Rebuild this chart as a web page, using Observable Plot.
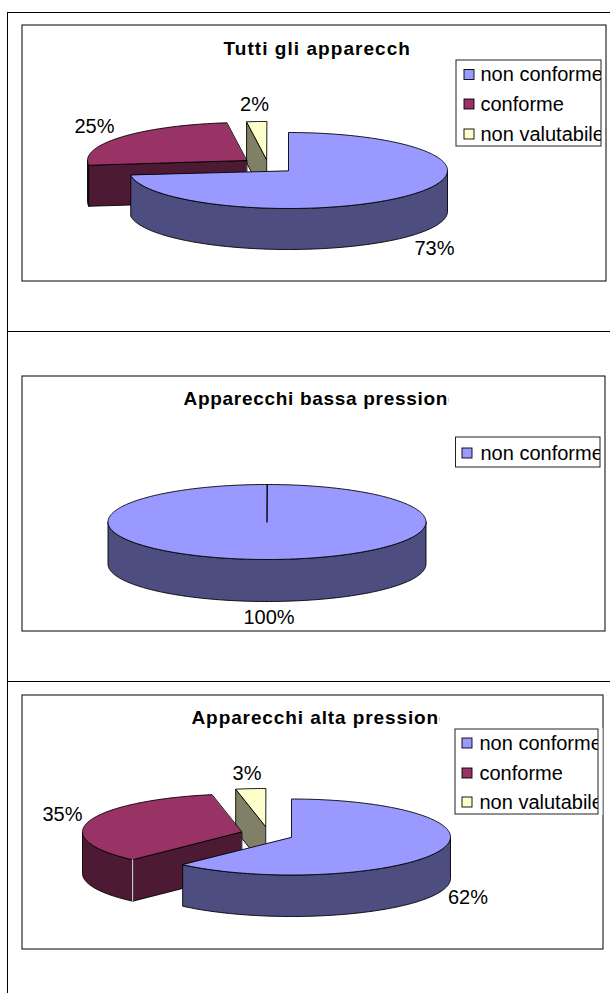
<!DOCTYPE html>
<html>
<head>
<meta charset="utf-8">
<title>Apparecchi a pressione</title>
<script src="https://cdn.jsdelivr.net/npm/d3@7"></script>
<script src="https://cdn.jsdelivr.net/npm/@observablehq/plot@0.6"></script>
<style>
  html, body { margin: 0; padding: 0; background: #fff; }
  svg { display: block; }
</style>
</head>
<body>
<div id="chart"></div>
<script>
// Values of the three pies, in percent, one series per chart.
const categories = ["non conforme", "conforme", "non valutabile"];
const tuttiValues = [73, 25, 2];
const bassaValues = [100];
const altaValues = [62, 35, 3];
const titles = ["Tutti gli apparecch", "Apparecchi bassa pressione", "Apparecchi alta pressione"];

// Colours of each category: top face and shaded side.
const topColors = ["#9999ff", "#993366", "#ffffcc"];
const sideColors = ["#4d4d80", "#4d1a33", "#808066"];

// Page layout of each chart: frame, pie ellipse, exploded apexes, legend, label anchors.
const panels = [
  {
    values: tuttiValues, frame: [22, 25, 606, 281],
    titleX: 223, titleY: 48.5, titleCut: null, titleSpacing: 1.05,
    rx: 159, ry: 38, depth: 41,
    apex: [[288, 170], [246, 160], [266, 159]],
    labels: [[434, 248], [94, 126], [254, 104]],
    legend: [456, 60, 601, 146], legendX: 480, swatchX: 464, legendY: [74.5, 104, 134], maskRight: 605, seam: false
  },
  {
    values: bassaValues, frame: [22, 376, 605, 631],
    titleX: 183, titleY: 398, titleCut: 449, titleSpacing: 0.7,
    rx: 159, ry: 37.5, depth: 42,
    apex: [[266.5, 521.5]],
    labels: [[268.5, 617]],
    legend: [455.5, 437, 600, 467], legendX: 480, swatchX: 462, legendY: [453], maskRight: 604, seam: false
  },
  {
    values: altaValues, frame: [22, 695, 603, 949],
    titleX: 191, titleY: 717, titleCut: 440, titleSpacing: 0.9,
    rx: 159, ry: 38, depth: 41.5,
    apex: [[291, 836.5], [241, 831.5], [265, 826]],
    labels: [[467.5, 897], [62, 814], [246.5, 773]],
    legend: [455, 729, 598, 814], legendX: 479, swatchX: 462, legendY: [743, 773, 802], maskRight: 602.5, seam: true
  }
];

// Point on a pie's rim: angle in degrees, clockwise from twelve o'clock.
const rim = (p, c, deg, drop = 0) => ({
  x: c[0] + p.rx * Math.sin(deg * Math.PI / 180),
  y: c[1] - p.ry * Math.cos(deg * Math.PI / 180) + drop
});
const arc = (a, b) => d3.range(a, b, 1).concat([b]);

const faces = [];
const seams = [];
const pushFace = (name, key, pts) => pts.forEach(pt => faces.push({...pt, face: name, key}));

panels.forEach((p, pi) => {
  // Angular extent of every slice, from the cumulative percentages.
  const ends = d3.cumsum(p.values);
  const slices = p.values.map((v, i) => ({i, a: (ends[i] - v) * 3.6, b: ends[i] * 3.6}));
  // Back slices first so the nearer ones cover them.
  slices.slice().reverse().forEach(({i, a, b}) => {
    const c = p.apex[i];
    const id = `${pi}-${i}`;
    const cat = categories[i];
    // Outer wall: only the part of the rim that faces the viewer.
    const w0 = Math.max(a, 90), w1 = Math.min(b, 270);
    if (w1 > w0) {
      const top = arc(w0, w1).map(d => rim(p, c, d));
      const bottom = arc(w0, w1).reverse().map(d => rim(p, c, d, p.depth));
      pushFace(`${id}-wall`, `${cat} lato`, [...top, ...bottom]);
    }
    // Cut face along a slice edge, when it turns towards the viewer.
    const cut = deg => {
      const e = rim(p, c, deg);
      return [{x: c[0], y: c[1]}, e, {x: e.x, y: e.y + p.depth}, {x: c[0], y: c[1] + p.depth}];
    };
    if (p.values[i] < 100) {
      if (a % 360 > 180) pushFace(`${id}-cutA`, `${cat} lato`, cut(a));
      if (b % 360 > 0 && b % 360 < 180) pushFace(`${id}-cutB`, `${cat} lato`, cut(b));
    }
    if (p.seam && a > 90 && a < 270 && i > 0) {
      const e = rim(p, c, a);
      seams.push({x: e.x, y: e.y, id}, {x: e.x, y: e.y + p.depth, id});
    }
    // Top face; the apex-to-rim edges also give the full pie its radius line.
    pushFace(`${id}-top`, cat, [{x: c[0], y: c[1]}, ...arc(a, b).map(d => rim(p, c, d))]);
  });
});

const frames = panels.map(p => p.frame);
const legendBoxes = panels.map(p => p.legend);
const legendRows = panels.flatMap(p => p.values.map((v, i) => ({
  cat: categories[i], x: p.legendX, sx: p.swatchX, y: p.legendY[i]
})));
const pctLabels = panels.flatMap(p => p.values.map((v, i) => ({
  text: `${v}%`, x: p.labels[i][0], y: p.labels[i][1]
})));
const titleRows = panels.map((p, i) => ({text: titles[i], x: p.titleX, y: p.titleY, spacing: p.titleSpacing}));
// Titles and legend entries are cut off where their boxes end.
const titleMasks = panels.filter(p => p.titleCut).map(p => ({x1: p.titleCut, x2: p.titleCut + 30, y1: p.titleY - 13, y2: p.titleY + 13}));
const legendMasks = panels.map(p => ({x1: p.legend[2], x2: p.maskRight, y1: p.legend[1] - 1, y2: p.legend[3] + 1}));

const colorDomain = categories.concat(categories.map(c => `${c} lato`));
const colorRange = topColors.concat(sideColors);

const box = (rows, options) => Plot.rect(rows, {
  x1: d => d[0], y1: d => d[1], x2: d => d[2], y2: d => d[3], ...options
});

const chart = Plot.plot({
  width: 610,
  height: 993,
  margin: 0,
  x: {domain: [0, 610], range: [0, 610], axis: null},
  y: {domain: [0, 993], range: [0, 993], axis: null},
  color: {type: "ordinal", domain: colorDomain, range: colorRange},
  style: {fontFamily: "'Liberation Sans', Arial, sans-serif", background: "#fff", color: "#000"},
  marks: [
    // Page rules around and between the charts.
    Plot.ruleX([7], {y1: 12, y2: 993, stroke: "#000"}),
    Plot.ruleY([12, 331, 681], {x1: 7, x2: 610, stroke: "#000"}),
    box(frames, {fill: "#fff", stroke: "#000"}),

    // Pie faces, in painter's order.
    Plot.line(faces, {
      x: "x", y: "y", z: "face", fill: "key",
      stroke: "#000", strokeWidth: 0.9, curve: "linear-closed"
    }),
    Plot.line(seams, {x: "x", y: "y", z: "id", stroke: "#e4e4e4", strokeWidth: 1}),

    Plot.text(pctLabels, {
      x: "x", y: "y", text: "text", fontSize: 20, fill: "#000",
      textAnchor: "middle", lineAnchor: "middle"
    }),

    Plot.text(titleRows, {
      x: "x", y: "y", text: "text", fontSize: 19, fontWeight: "bold", fill: "#000",
      textAnchor: "start", lineAnchor: "middle"
    }),
    Plot.rect(titleMasks, {x1: "x1", x2: "x2", y1: "y1", y2: "y2", fill: "#fff"}),

    // Legends.
    Plot.text(legendRows, {
      x: "x", y: "y", text: "cat", fontSize: 20, fill: "#000",
      textAnchor: "start", lineAnchor: "middle"
    }),
    Plot.rect(legendMasks, {x1: "x1", x2: "x2", y1: "y1", y2: "y2", fill: "#fff"}),
    box(legendBoxes, {fill: "none", stroke: "#222"}),
    Plot.rect(legendRows, {
      x1: "sx", x2: d => d.sx + 10, y1: d => d.y - 5, y2: d => d.y + 5,
      fill: "cat", stroke: "#000", strokeWidth: 0.9
    })
  ]
});

// Bold titles are set with wide tracking.
d3.select(chart).selectAll("text").each(function() {
  const row = titleRows.find(t => t.text === this.textContent);
  if (row) this.style.letterSpacing = `${row.spacing}px`;
});

document.getElementById("chart").append(chart);
</script>
</body>
</html>
